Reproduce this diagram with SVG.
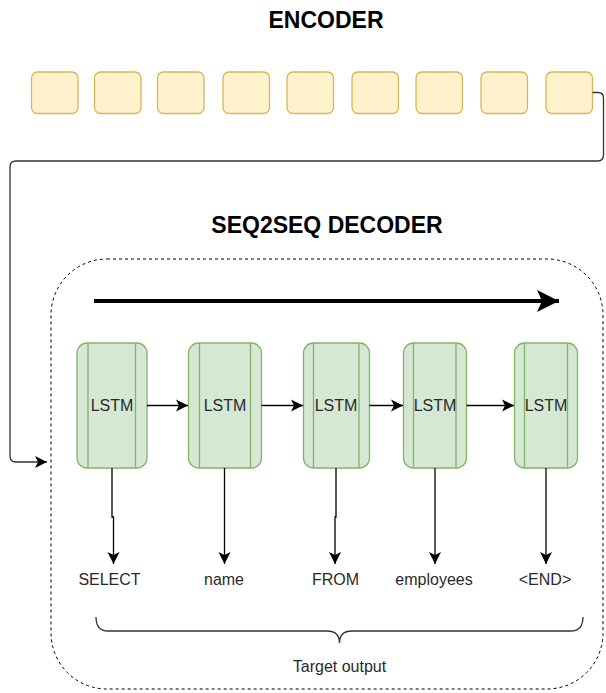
<svg xmlns="http://www.w3.org/2000/svg" width="606" height="693" viewBox="0 0 606 693">
<style>
.enc{fill:#fff2cc;stroke:#d6b656;stroke-width:1.3}
.lstm{fill:#d5e8d4;stroke:#82b366;stroke-width:1.3}
.inner{stroke:#82b366;stroke-width:1.3;fill:none}
.t{font-family:"Liberation Sans",Arial,sans-serif;font-size:16px;fill:#2a2a2a;text-anchor:middle}
.title{font-family:"Liberation Sans",Arial,sans-serif;font-size:23px;font-weight:bold;fill:#000;text-anchor:middle}
.edge{fill:none;stroke:#000;stroke-width:1.3}
</style>
<defs>
<marker id="ah" markerUnits="userSpaceOnUse" markerWidth="13" markerHeight="13" viewBox="0 0 13 13" refX="12" refY="6.5" orient="auto">
<path d="M0,0.5 L12,6.5 L0,12.5 L3,6.5 z" fill="#000"/>
</marker>
<marker id="big" markerUnits="userSpaceOnUse" markerWidth="24" markerHeight="24" viewBox="0 0 24 24" refX="22" refY="12" orient="auto">
<path d="M0,1 L22,12 L0,23 L5,12 z" fill="#000"/>
</marker>
</defs>

<text class="title" x="326" y="28">ENCODER</text>
<text class="title" x="327" y="233">SEQ2SEQ DECODER</text>

<g id="encoder">
<rect id="e1" class="enc" x="31.5" y="72" width="46.5" height="41.5" rx="6"/>
<rect id="e2" class="enc" x="94.5" y="72" width="46.5" height="41.5" rx="6"/>
<rect id="e3" class="enc" x="157.5" y="72" width="46.5" height="41.5" rx="6"/>
<rect id="e4" class="enc" x="223" y="72" width="46.5" height="41.5" rx="6"/>
<rect id="e5" class="enc" x="287" y="72" width="46.5" height="41.5" rx="6"/>
<rect id="e6" class="enc" x="352" y="72" width="46.5" height="41.5" rx="6"/>
<rect id="e7" class="enc" x="416" y="72" width="46.5" height="41.5" rx="6"/>
<rect id="e8" class="enc" x="481" y="72" width="46.5" height="41.5" rx="6"/>
<rect id="e9" class="enc" x="546" y="72" width="46.5" height="41.5" rx="6"/>
</g>

<g id="decoder">
<rect x="51" y="259" width="552" height="430" rx="56" fill="none" stroke="#000" stroke-width="1" stroke-dasharray="3 3"/>
</g>

<g id="lstm1">
<rect class="lstm" x="77" y="343" width="70" height="125" rx="10"/>
<path class="inner" d="M88 343V468M135.5 343V468"/>
<text class="t" x="112" y="411">LSTM</text>
</g>
<g id="lstm2">
<rect class="lstm" x="188.5" y="343" width="73" height="125" rx="10"/>
<path class="inner" d="M199.5 343V468M250.5 343V468"/>
<text class="t" x="225" y="411">LSTM</text>
</g>
<g id="lstm3">
<rect class="lstm" x="303.5" y="343" width="66" height="125" rx="10"/>
<path class="inner" d="M313.5 343V468M359 343V468"/>
<text class="t" x="336" y="411">LSTM</text>
</g>
<g id="lstm4">
<rect class="lstm" x="403.5" y="343" width="63" height="125" rx="10"/>
<path class="inner" d="M413.5 343V468M456 343V468"/>
<text class="t" x="435" y="411">LSTM</text>
</g>
<g id="lstm5">
<rect class="lstm" x="514.5" y="343" width="63" height="125" rx="10"/>
<path class="inner" d="M524.5 343V468M567.5 343V468"/>
<text class="t" x="546" y="411">LSTM</text>
</g>

<g id="outputs">
<text class="t" x="109.5" y="585">SELECT</text>
<text class="t" x="224" y="585">name</text>
<text class="t" x="335.5" y="585">FROM</text>
<text class="t" x="434" y="585">employees</text>
<text class="t" x="545" y="585">&lt;END&gt;</text>
<text class="t" x="339.5" y="672">Target output</text>
</g>

<g id="connectors">
<path d="M592.5 92.5H598Q603.5 92.5 603.5 98V155Q603.5 161 597.5 161H16Q10 161 10 167V456Q10 462 16 462H47" fill="none" stroke="#333" stroke-width="1.3" marker-end="url(#ah)"/>
<path d="M94 301H559" fill="none" stroke="#000" stroke-width="4" marker-end="url(#big)"/>
<path class="edge" d="M147 405.5H188" marker-end="url(#ah)"/>
<path class="edge" d="M261.5 405.5H303" marker-end="url(#ah)"/>
<path class="edge" d="M369.5 405.5H403" marker-end="url(#ah)"/>
<path class="edge" d="M466.5 405.5H514" marker-end="url(#ah)"/>
<path class="edge" d="M112 468V517H113.5V564" marker-end="url(#ah)"/>
<path class="edge" d="M224.5 468V564" marker-end="url(#ah)"/>
<path class="edge" d="M336 468V517H335V564" marker-end="url(#ah)"/>
<path class="edge" d="M435 468V564" marker-end="url(#ah)"/>
<path class="edge" d="M546 468V564" marker-end="url(#ah)"/>
<path d="M96 617Q96 631 108 631H327Q339.5 631 339.5 643Q339.5 631 352 631H571Q583 631 583 617" fill="none" stroke="#333" stroke-width="1.3"/>
</g>
</svg>
